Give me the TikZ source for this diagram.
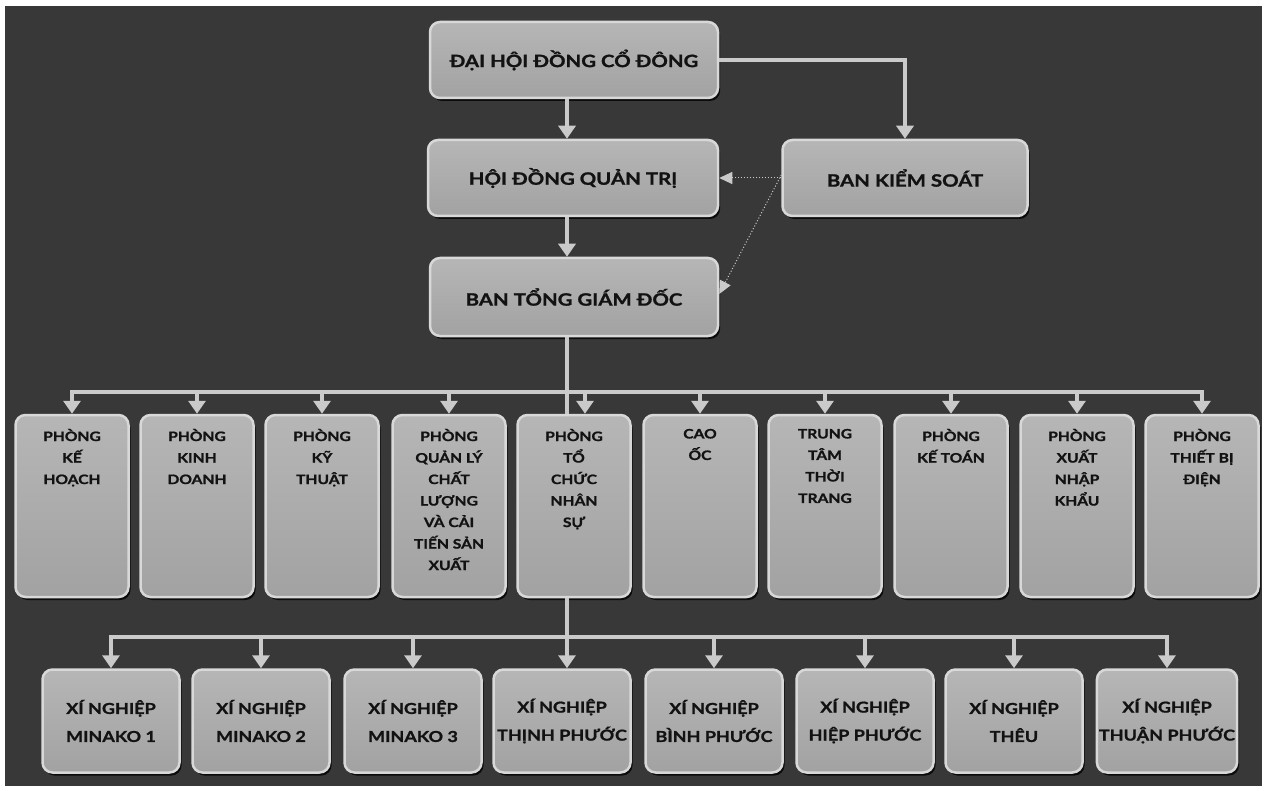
\documentclass[tikz,border=0pt]{standalone}
\usepackage{fontspec}
\setmainfont{Lato}
\newfontfamily\lbl[FakeStretch=1.2, BoldFeatures={FakeBold=1.2}]{Lato}
\usetikzlibrary{arrows.meta,shadows,calc}
\definecolor{bg}{HTML}{383838}
\definecolor{lnc}{HTML}{CACACA}
\definecolor{boxtop}{HTML}{B6B6B6}
\definecolor{boxbot}{HTML}{A2A2A2}
\definecolor{boxedge}{HTML}{D8D8D8}
\definecolor{txt}{HTML}{121212}
\tikzset{
  basebox/.style={draw=boxedge, line width=2.5pt, rounded corners=10pt,
    top color=boxtop, bottom color=boxbot, text=txt, align=center, inner sep=2pt,
    drop shadow={shadow xshift=2pt, shadow yshift=-3pt, opacity=0.8, fill=black}},
  topbox/.style={basebox, font=\lbl\bfseries\fontsize{17}{20}\selectfont},
  midbox/.style={basebox, minimum width=113pt, minimum height=182pt},
  midtxt/.style={text=txt, align=center, inner sep=0pt, font=\lbl\bfseries\fontsize{13}{21.5}\selectfont},
  botbox/.style={basebox, minimum width=137pt, minimum height=103pt, font=\lbl\bfseries\fontsize{15}{28}\selectfont},
  conn/.style={draw=lnc, line width=4pt},
  arr/.style={conn, -{Triangle[width=17pt,length=13pt]}},
  dotarr/.style={draw=lnc, line width=1pt, dotted, -{Triangle[width=12pt,length=13pt]}}
}
\begin{document}
\begin{tikzpicture}[x=1pt,y=-1pt]
\useasboundingbox (0,0) rectangle (1268,791);
\fill[white] (0,0) rectangle (1268,791);
\fill[bg] (5,6) rectangle (1262,786);

% top nodes
\node[topbox, minimum width=288pt, minimum height=76pt] (dh) at (574,60) {ĐẠI HỘI ĐỒNG CỔ ĐÔNG};
\node[topbox, minimum width=290pt, minimum height=76pt] (hd) at (573,178) {HỘI ĐỒNG QUẢN TRỊ};
\node[topbox, minimum width=245pt, minimum height=76pt] (bks) at (905,178) {BAN KIỂM SOÁT};
\node[topbox, minimum width=288pt, minimum height=78pt] (tg) at (574,297) {BAN TỔNG GIÁM ĐỐC};

% middle row
\node[midbox] (m1) at (72,506) {};
\node[midbox] (m2) at (197,506) {};
\node[midbox] (m3) at (322,506) {};
\node[midbox] (m4) at (449,506) {};
\node[midbox] (m5) at (574,506) {};
\node[midbox] (m6) at (700,506) {};
\node[midbox] (m7) at (825,506) {};
\node[midbox] (m8) at (951,506) {};
\node[midbox] (m9) at (1077,506) {};
\node[midbox] (m10) at (1202,506) {};
\node[midtxt, anchor=north] (t1) at ([yshift=-15pt]m1.north) {PHÒNG\\KẾ\\HOẠCH};
\node[midtxt, anchor=north] (t2) at ([yshift=-15pt]m2.north) {PHÒNG\\KINH\\DOANH};
\node[midtxt, anchor=north] (t3) at ([yshift=-15pt]m3.north) {PHÒNG\\KỸ\\THUẬT};
\node[midtxt, anchor=north] (t4) at ([yshift=-15pt]m4.north) {PHÒNG\\QUẢN LÝ\\CHẤT\\LƯỢNG\\VÀ CẢI\\TIẾN SẢN\\XUẤT};
\node[midtxt, anchor=north] (t5) at ([yshift=-15pt]m5.north) {PHÒNG\\TỔ\\CHỨC\\NHÂN\\SỰ};
\node[midtxt, anchor=north] (t6) at ([yshift=-15pt]m6.north) {CAO\\ỐC};
\node[midtxt, anchor=north] (t7) at ([yshift=-15pt]m7.north) {TRUNG\\TÂM\\THỜI\\TRANG};
\node[midtxt, anchor=north] (t8) at ([yshift=-15pt]m8.north) {PHÒNG\\KẾ TOÁN};
\node[midtxt, anchor=north] (t9) at ([yshift=-15pt]m9.north) {PHÒNG\\XUẤT\\NHẬP\\KHẨU};
\node[midtxt, anchor=north] (t10) at ([yshift=-15pt]m10.north) {PHÒNG\\THIẾT BỊ\\ĐIỆN};

% bottom row
\node[botbox] (x1) at (111,721) {XÍ NGHIỆP\\MINAKO 1};
\node[botbox] (x2) at (261,721) {XÍ NGHIỆP\\MINAKO 2};
\node[botbox] (x3) at (413,721) {XÍ NGHIỆP\\MINAKO 3};
\node[botbox] (x4) at (562,721) {XÍ NGHIỆP\\THỊNH PHƯỚC};
\node[botbox] (x5) at (714,721) {XÍ NGHIỆP\\BÌNH PHƯỚC};
\node[botbox] (x6) at (865,721) {XÍ NGHIỆP\\HIỆP PHƯỚC};
\node[botbox] (x7) at (1014,721) {XÍ NGHIỆP\\THÊU};
\node[botbox] (x8) at (1167,721) {XÍ NGHIỆP\\THUẬN PHƯỚC};

% top connectors
\draw[arr] ([xshift=-7pt]dh.south) -- ([xshift=-6pt]hd.north);
\draw[arr] (dh.east) -| (bks.north);
\draw[arr] ([xshift=-6pt]hd.south) -- ([xshift=-7pt]tg.north);
\draw[dotarr] (bks.west) -- (hd.east);
\draw[dotarr] ([yshift=3pt]bks.west) -- ([yshift=3pt]tg.east);

% bus to middle row
\coordinate (b1) at (567,392);
\coordinate (a5) at ([xshift=11pt]m5.north);
\draw[conn] ([xshift=-7pt]tg.south) -- ([xshift=-7pt]m5.north);
\draw[conn, line cap=rect] (b1 -| m1.north) -- (b1 -| m10.north);
\foreach \m in {m1,m2,m3,m4,m6,m7,m8,m9,m10}
  \draw[arr] (b1 -| \m.north) -- (\m.north);
\draw[arr] (b1 -| a5) -- (a5);

% bus to bottom row
\coordinate (b2) at (567,637);
\draw[conn] ([xshift=-7pt]m5.south) -- (b2);
\draw[conn, line cap=rect] (b2 -| x1.north) -- (b2 -| x8.north);
\foreach \x in {x1,x2,x3,x5,x6,x7,x8}
  \draw[arr] (b2 -| \x.north) -- (\x.north);
\draw[arr] (b2) -- (b2 |- x4.north);
\end{tikzpicture}
\end{document}
